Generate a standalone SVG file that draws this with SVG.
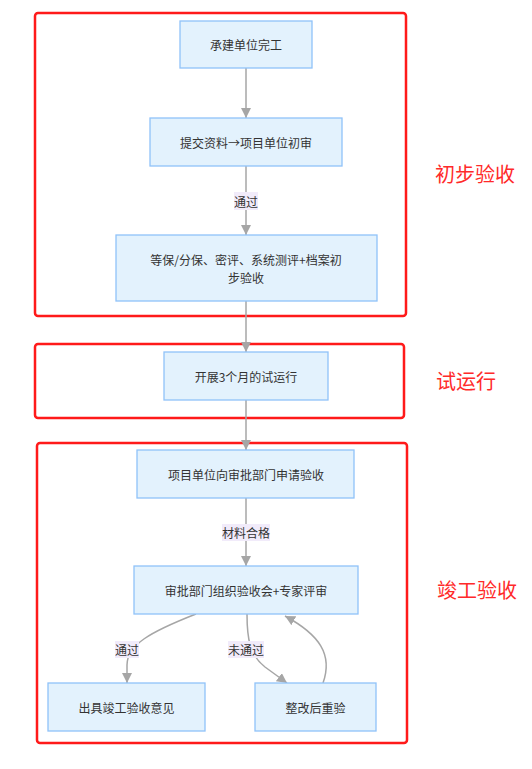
<svg xmlns="http://www.w3.org/2000/svg" width="532" height="769" viewBox="0 0 532 769">
<style>
.node rect{fill:#e3f2fd;stroke:#90c2f9;stroke-width:1.3}
.node text{font-family:"Noto Sans CJK SC","Noto Sans",sans-serif;font-size:12px;fill:#333;text-anchor:middle;dominant-baseline:central}
.edge{fill:none;stroke:#a6a6a6;stroke-width:1.5}
.lbl rect{fill:#f1ebfa}
.lbl text{font-family:"Noto Sans CJK SC","Noto Sans",sans-serif;font-size:12px;fill:#333;text-anchor:middle;dominant-baseline:central}
.grp rect{fill:none;stroke:#ff1a1a;stroke-width:2.5}
.grp text{font-family:"Noto Sans CJK SC","Noto Sans",sans-serif;font-size:20px;fill:#ff2a2a;dominant-baseline:central}
</style>
<defs>
<marker id="ah" markerUnits="userSpaceOnUse" markerWidth="10" markerHeight="10" viewBox="0 0 10 10" refX="10" refY="5" orient="auto">
<path d="M0,0 L10,5 L0,10 z" fill="#a6a6a6"/>
</marker>
</defs>
<rect width="532" height="769" fill="#fff"/>
<g id="groups" class="grp">
<rect x="35" y="13" width="371" height="303" rx="3"/>
<rect x="35" y="344" width="369" height="74" rx="3"/>
<rect x="37" y="443" width="370" height="300" rx="3"/>
<text x="435" y="173">初步验收</text>
<text x="436" y="380">试运行</text>
<text x="437" y="589">竣工验收</text>
</g>
<g id="connectors">
<path class="edge" d="M246,68 L246,118" marker-end="url(#ah)"/>
<path class="edge" d="M246,166 L246,235" marker-end="url(#ah)"/>
<path class="edge" d="M246,301 L246,352" marker-end="url(#ah)"/>
<path class="edge" d="M246,400 L246,450" marker-end="url(#ah)"/>
<path class="edge" d="M246,498 L246,566" marker-end="url(#ah)"/>
<path class="edge" d="M196,614 C150,632 127,645 127,665 L127,683" marker-end="url(#ah)"/>
<path class="edge" d="M247,614 C247,640 250,655 265,667 L287,683" marker-end="url(#ah)"/>
<path class="edge" d="M323,683 C333,655 320,635 285,616" marker-end="url(#ah)"/>
<g class="lbl"><rect x="234" y="192" width="24" height="18"/><text x="246" y="201">通过</text></g>
<g class="lbl"><rect x="222" y="524" width="48" height="17"/><text x="246" y="532">材料合格</text></g>
<g class="lbl"><rect x="115" y="641" width="24" height="17"/><text x="127" y="649">通过</text></g>
<g class="lbl"><rect x="228" y="641" width="36" height="17"/><text x="246" y="649">未通过</text></g>
</g>
<g id="n1" class="node"><rect x="180" y="21" width="132" height="47"/><text x="246" y="44.5">承建单位完工</text></g>
<g id="n2" class="node"><rect x="150" y="118" width="192" height="48"/><text x="246" y="142">提交资料→项目单位初审</text></g>
<g id="n3" class="node"><rect x="116" y="235" width="261" height="66"/><text x="246" y="259">等保/分保、密评、系统测评+档案初</text><text x="246" y="277">步验收</text></g>
<g id="n4" class="node"><rect x="164" y="352" width="164" height="48"/><text x="246" y="376">开展3个月的试运行</text></g>
<g id="n5" class="node"><rect x="137" y="450" width="217" height="48"/><text x="246" y="474">项目单位向审批部门申请验收</text></g>
<g id="n6" class="node"><rect x="134" y="566" width="224" height="48"/><text x="246" y="590">审批部门组织验收会+专家评审</text></g>
<g id="n7" class="node"><rect x="48" y="683" width="157" height="48"/><text x="126.5" y="707">出具竣工验收意见</text></g>
<g id="n8" class="node"><rect x="255" y="683" width="121" height="48"/><text x="315.5" y="707">整改后重验</text></g>
</svg>
